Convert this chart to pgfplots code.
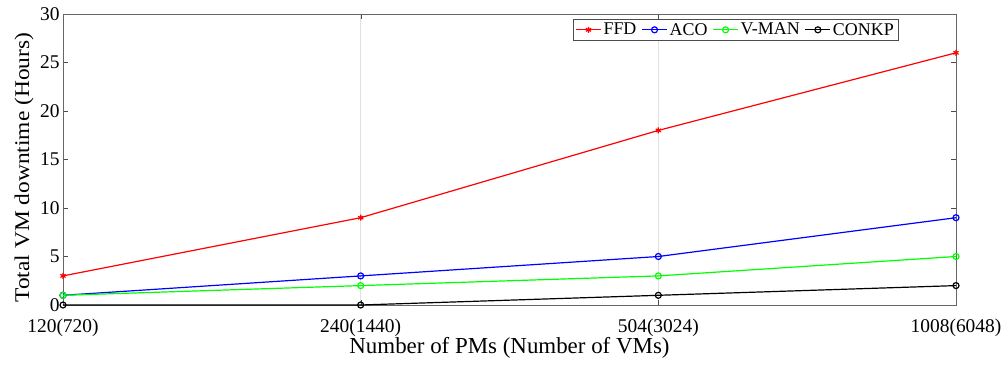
\documentclass[border=0pt]{standalone}
\usepackage{pgfplots}
\pgfplotsset{compat=1.18}
\usepackage{graphicx}
\usepackage{fontspec}
\setmainfont{Liberation Serif}
\begin{document}
\begin{tikzpicture}[x=1bp,y=1bp]
\path[use as bounding box] (-63,-59) rectangle (945,305);
\begin{axis}[
  at={(0,0)}, anchor=south west,
  scale only axis, width=893bp, height=291bp,
  xmin=0, xmax=3, ymin=0, ymax=30,
  xtick={0,1,2,3},
  xticklabels={120(720),240(1440),504(3024),1008(6048)},
  ytick={0,5,10,15,20,25,30},
  xmajorgrids, grid style={black!12},
  axis line style={black!60},
  tick style={black!70},
  tick align=inside,
  major tick length=5bp,
  ticklabel style={font=\fontsize{19.5}{21}\selectfont},
  xticklabel style={yshift=-10bp},
  /pgf/number format/assume math mode=true,
  xlabel={Number of PMs (Number of VMs)},
  ylabel={\scalebox{1.12}[1]{Total VM downtime (Hours)}},
  xlabel style={font=\fontsize{23}{25}\selectfont, at={(axis description cs:0.5,-0.148)}, anchor=center},
  ylabel style={font=\fontsize{21}{23}\selectfont, at={(axis description cs:-0.0437,0.472)}, anchor=center},
  legend columns=4,
  legend style={at={(0.935,0.983)}, anchor=north east, draw=black!70,
    font=\fontsize{18}{20}\selectfont, inner xsep=2bp, inner ysep=2bp,
    /tikz/every even column/.append style={column sep=3bp}},
  legend image code/.code={\draw[#1] (0bp,0bp) -- (25bp,0bp); \draw[#1,mark repeat=1] plot coordinates {(12.5bp,0bp)};},
  every axis plot/.append style={line width=1.2bp, mark size=3bp},
]
\addplot[red, mark=asterisk, mark options={line width=1.2bp}] coordinates {(0,3) (1,9) (2,18) (3,26)};
\addlegendentry{FFD}
\addplot[blue, mark=o] coordinates {(0,1) (1,3) (2,5) (3,9)};
\addlegendentry{ACO}
\addplot[green, mark=o] coordinates {(0,1) (1,2) (2,3) (3,5)};
\addlegendentry{V-MAN}
\addplot[black, mark=o] coordinates {(0,0) (1,0) (2,1) (3,2)};
\addlegendentry{CONKP}
\end{axis}
\end{tikzpicture}
\end{document}
